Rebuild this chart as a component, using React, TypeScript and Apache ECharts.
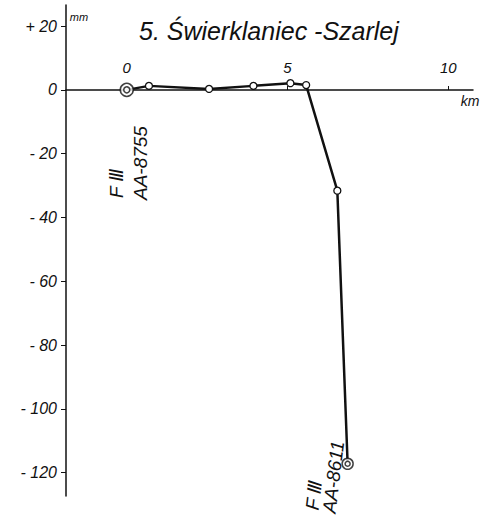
import React, { useEffect, useRef } from "react";
import * as echarts from "echarts";

// Distance along the levelling line (km) and settlement (mm)
const distanceKm = [0, 0.69, 2.56, 3.94, 5.09, 5.58, 6.55, 6.87];
const settlementMm = [0, 1.25, 0.3, 1.25, 2.1, 1.5, -31.6, -117.2];
// Benchmarks (end points) – distance and settlement
const benchmarkKm = [0, 6.87];
const benchmarkMm = [0, -117.2];
const benchmarkNames = ["AA-8755", "AA-8611"];
// Axis ticks
const xTicks = [0, 5, 10];
const yTicks = [20, 0, -20, -40, -60, -80, -100, -120];

const FONT = "'Liberation Sans', 'DejaVu Sans', sans-serif";

export default function App() {
  const ref = useRef<HTMLDivElement>(null);
  useEffect(() => {
    if (!ref.current) return;
    const chart = echarts.init(ref.current, undefined, { renderer: "svg" });
    const last = distanceKm.length - 1;
    const lineData = distanceKm.map((x, i) => ({
      value: [x, settlementMm[i]],
      symbol: i === 0 || i === last ? "none" : "circle",
    }));
    const outer = benchmarkKm.map((x, i) => ({
      value: [x, benchmarkMm[i]],
      symbolSize: i === 0 ? 13 : 11,
    }));
    const inner = benchmarkKm.map((x, i) => ({
      value: [x, benchmarkMm[i]],
      symbolSize: i === 0 ? 6 : 5,
    }));
    chart.setOption({
      animation: false,
      backgroundColor: "#fff",
      title: {
        text: "5. Świerklaniec -Szarlej",
        left: 134,
        top: 13,
        textStyle: {
          fontFamily: FONT,
          fontStyle: "italic",
          fontWeight: "normal",
          fontSize: 25,
          color: "#111",
        },
      },
      grid: { left: 66, top: 5, width: 407, height: 491, containLabel: false, outerBoundsMode: "none" },
      xAxis: {
        type: "value",
        position: "top",
        offset: -85,
        min: -1.89,
        max: 10.77,
        axisLine: { onZero: false, lineStyle: { color: "#111", width: 1.5 } },
        axisTick: { customValues: xTicks, length: 4, lineStyle: { color: "#111" } },
        axisLabel: {
          customValues: xTicks,
          margin: 15,
          fontFamily: FONT,
          fontStyle: "italic",
          fontSize: 15,
          color: "#111",
        },
        splitLine: { show: false },
      },
      yAxis: {
        type: "value",
        min: -127.3,
        max: 26.6,
        axisLine: { show: true, onZero: false, lineStyle: { color: "#111", width: 1.5 } },
        axisTick: { show: true, customValues: yTicks, length: 5, lineStyle: { color: "#111" } },
        axisLabel: {
          customValues: yTicks,
          margin: 9,
          fontFamily: FONT,
          fontStyle: "italic",
          fontSize: 16,
          color: "#111",
          formatter: (v: number) => (v > 0 ? "+ " + v : v < 0 ? "- " + Math.abs(v) : "0"),
        },
        splitLine: { show: false },
      },
      series: [
        {
          type: "line",
          data: lineData,
          symbolSize: 7,
          lineStyle: { color: "#111", width: 2.5 },
          itemStyle: { color: "#fff", borderColor: "#111", borderWidth: 1.3 },
          z: 2,
        },
        {
          type: "scatter",
          data: outer,
          symbol: "circle",
          itemStyle: { color: "#fff", borderColor: "#111", borderWidth: 1.5 },
          z: 3,
        },
        {
          type: "scatter",
          data: inner,
          symbol: "circle",
          itemStyle: { color: "#fff", borderColor: "#111", borderWidth: 1.5 },
          z: 4,
        },
      ],
      graphic: [
        {
          type: "text",
          x: 79,
          y: 17,
          style: { text: "mm", font: `italic 11px ${FONT}`, fill: "#111", textAlign: "center", textVerticalAlign: "middle" },
        },
        {
          type: "text",
          x: 470,
          y: 101,
          style: { text: "km", font: `italic 14px ${FONT}`, fill: "#111", textAlign: "center", textVerticalAlign: "middle" },
        },
        {
          type: "text",
          x: 116,
          y: 198,
          rotation: Math.PI / 2,
          style: { text: "F Ⅲ", font: `italic 19px ${FONT}`, fill: "#111", textAlign: "left", textVerticalAlign: "middle" },
        },
        {
          type: "text",
          x: 140,
          y: 200,
          rotation: Math.PI / 2,
          style: { text: benchmarkNames[0], font: `italic 19px ${FONT}`, fill: "#111", textAlign: "left", textVerticalAlign: "middle" },
        },
        {
          type: "text",
          x: 312,
          y: 510,
          rotation: 1.45,
          style: { text: "F Ⅲ", font: `italic 19px ${FONT}`, fill: "#111", textAlign: "left", textVerticalAlign: "middle" },
        },
        {
          type: "text",
          x: 329,
          y: 513,
          rotation: 1.45,
          style: { text: benchmarkNames[1], font: `italic 19px ${FONT}`, fill: "#111", textAlign: "left", textVerticalAlign: "middle" },
        },
      ],
    });
    return () => chart.dispose();
  }, []);
  return (
    <div
      ref={ref}
      style={{ position: "fixed", left: 0, top: 0, width: 497, height: 526, background: "#fff" }}
    />
  );
}
